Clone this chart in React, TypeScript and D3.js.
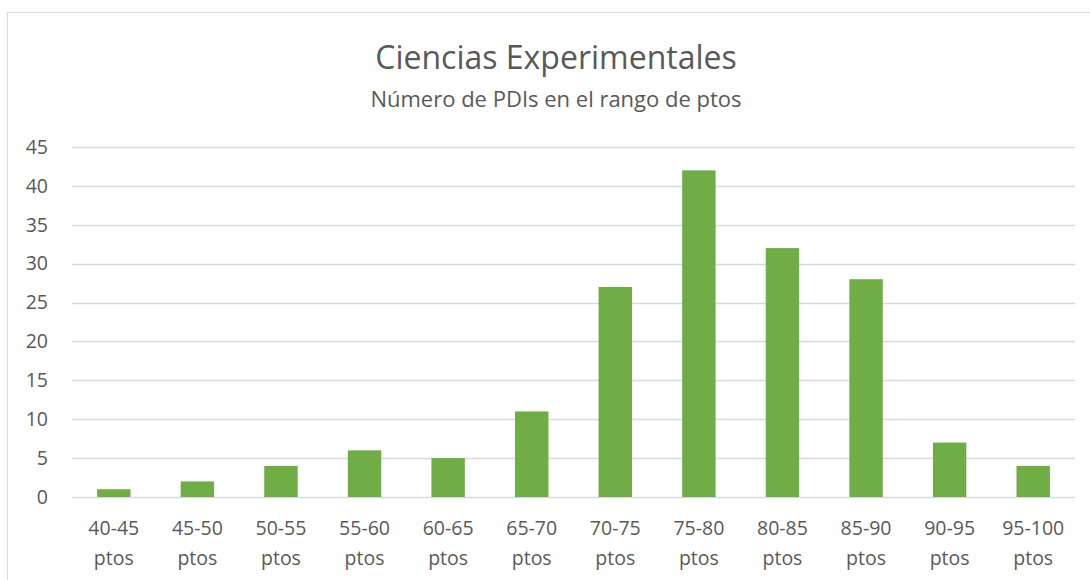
import { useEffect, useRef } from "react"
import * as d3 from "d3"

const categories = [
  "40-45 ptos",
  "45-50 ptos",
  "50-55 ptos",
  "55-60 ptos",
  "60-65 ptos",
  "65-70 ptos",
  "70-75 ptos",
  "75-80 ptos",
  "80-85 ptos",
  "85-90 ptos",
  "90-95 ptos",
  "95-100 ptos",
]
const counts = [1, 2, 4, 6, 5, 11, 27, 42, 32, 28, 7, 4]
const yTicks = [0, 5, 10, 15, 20, 25, 30, 35, 40, 45]

export default function App() {
  const svgRef = useRef<SVGSVGElement>(null)

  useEffect(() => {
    document.body.style.margin = "0"
    if (!svgRef.current) return
    const svg = d3.select(svgRef.current)
    svg.selectAll("*").remove()

    const width = 1090
    const height = 580
    const margin = { top: 147, right: 15, bottom: 83, left: 72 }
    const innerWidth = width - margin.left - margin.right
    const innerHeight = height - margin.top - margin.bottom
    const font = "'Open Sans', 'Noto Sans', sans-serif"
    const textColor = "#595959"

    svg.append("rect").attr("width", width).attr("height", height).attr("fill", "white")

    // chart border
    svg
      .append("rect")
      .attr("x", 7.5)
      .attr("y", 12.5)
      .attr("width", width + 20)
      .attr("height", height + 20)
      .attr("fill", "none")
      .attr("stroke", "#d9d9d9")

    const x = d3.scaleBand().domain(categories).range([0, innerWidth]).paddingInner(0.6).paddingOuter(0.3)
    const y = d3.scaleLinear().domain([0, 45]).range([innerHeight, 0])

    const g = svg.append("g").attr("transform", `translate(${margin.left},${margin.top})`)

    // gridlines
    g.selectAll("line.grid")
      .data(yTicks)
      .join("line")
      .attr("class", "grid")
      .attr("x1", 0)
      .attr("x2", innerWidth)
      .attr("y1", (d) => Math.round(y(d)) + 0.5)
      .attr("y2", (d) => Math.round(y(d)) + 0.5)
      .attr("stroke", "#d9d9d9")
      .attr("stroke-width", 1.3)

    // y labels
    g.selectAll("text.ylab")
      .data(yTicks)
      .join("text")
      .attr("class", "ylab")
      .attr("x", -24)
      .attr("y", (d) => y(d))
      .attr("dy", "0.35em")
      .attr("text-anchor", "end")
      .attr("font-family", font)
      .attr("font-size", 19.5)
      .attr("fill", textColor)
      .text((d) => d)

    // bars
    g.selectAll("rect.bar")
      .data(counts)
      .join("rect")
      .attr("class", "bar")
      .attr("x", (_, i) => x(categories[i]) || 0)
      .attr("y", (d) => y(d))
      .attr("width", x.bandwidth())
      .attr("height", (d) => innerHeight - y(d))
      .attr("fill", "#70ad47")

    // x labels (two lines)
    const xl = g
      .selectAll("text.xlab")
      .data(categories)
      .join("text")
      .attr("class", "xlab")
      .attr("text-anchor", "middle")
      .attr("font-family", font)
      .attr("font-size", 19.5)
      .attr("fill", textColor)
      .attr("transform", (d) => `translate(${(x(d) || 0) + x.bandwidth() / 2},${innerHeight + 38})`)
    xl.append("tspan")
      .attr("x", 0)
      .attr("y", 0)
      .text((d) => d.split(" ")[0])
    xl.append("tspan")
      .attr("x", 0)
      .attr("y", 30)
      .text((d) => d.split(" ")[1])

    // title
    svg
      .append("text")
      .attr("x", 556)
      .attr("y", 69)
      .attr("text-anchor", "middle")
      .attr("font-family", font)
      .attr("font-size", 32)
      .attr("fill", textColor)
      .text("Ciencias Experimentales")

    svg
      .append("text")
      .attr("x", 556)
      .attr("y", 107)
      .attr("text-anchor", "middle")
      .attr("font-family", font)
      .attr("font-size", 22)
      .attr("fill", textColor)
      .text("Número de PDIs en el rango de ptos")
  }, [])

  return <svg ref={svgRef} width={1090} height={580} style={{ display: "block" }} />
}
